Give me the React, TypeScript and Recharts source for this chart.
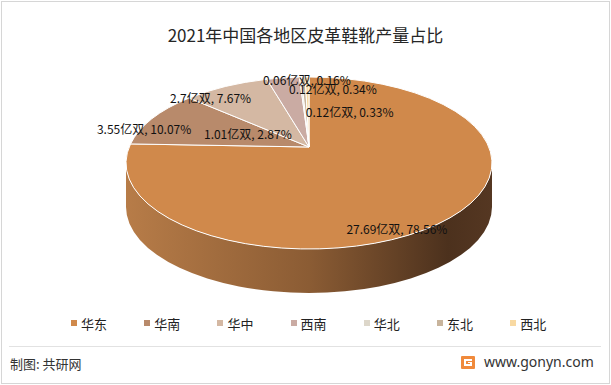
import { Cell, Legend, Pie, PieChart } from 'recharts';

const regions = ['华东', '华南', '华中', '西南', '华北', '东北', '西北'];
const outputYi = [27.69, 3.55, 2.7, 1.01, 0.06, 0.12, 0.12];
const sharePct = [78.56, 10.07, 7.67, 2.87, 0.16, 0.34, 0.33];
const sliceColors = ['#D0894B', '#B88A6B', '#D4B8A3', '#CAABA3', '#DDD7CA', '#C8B49C', '#F8D9A2'];

const data = regions.map((name, i) => ({ name, value: sharePct[i], output: outputYi[i] }));

// flattened "3d" look
const TILT = 0.47;
const DEPTH = 44;
const LIFT = 16;
const RAD = Math.PI / 180;

// label tweaks, Excel best-fit puts them in odd places
const labelNudge = [[8, 18], [-55, -4], [-40, -12], [-43, 30], [4, -23], [28, -14], [42, 9]];

const font = '"Noto Sans CJK SC", "Noto Sans", sans-serif';

function ept(cx: number, cy: number, r: number, a: number) {
  return [cx + r * Math.cos(a * RAD), cy - r * TILT * Math.sin(a * RAD)];
}

function Slice3D(props: any) {
  const { cx, cy, outerRadius, startAngle, endAngle, fill } = props;
  const rx = outerRadius;
  const ry = outerRadius * TILT;
  const [sx, sy] = ept(cx, cy, rx, startAngle);
  const [ex, ey] = ept(cx, cy, rx, endAngle);
  const large = Math.abs(startAngle - endAngle) > 180 ? 1 : 0;
  const top = `M${cx},${cy - LIFT} L${sx},${sy} A${rx},${ry} 0 ${large} 1 ${ex},${ey} Z`;

  const hi = Math.min(startAngle, 0);
  const lo = Math.max(endAngle, -180);
  let side = null;
  if (lo < hi) {
    const [hx, hy] = ept(cx, cy, rx, hi);
    const [lx, ly] = ept(cx, cy, rx, lo);
    const lg = hi - lo > 180 ? 1 : 0;
    const d = `M${hx},${hy} A${rx},${ry} 0 ${lg} 1 ${lx},${ly} L${lx},${ly + DEPTH} A${rx},${ry} 0 ${lg} 0 ${hx},${hy + DEPTH} Z`;
    side = (
      <>
        <defs>
          <linearGradient id={`side${props.index}`} gradientUnits="userSpaceOnUse" x1={cx - rx} y1={0} x2={cx + rx} y2={0}>
            <stop offset="0%" stopColor="#B77C48" />
            <stop offset="50%" stopColor="#8B5C34" />
            <stop offset="88%" stopColor="#4C311D" />
            <stop offset="100%" stopColor="#553722" />
          </linearGradient>
        </defs>
        <path d={d} fill={`url(#side${props.index})`} stroke="none" />
      </>
    );
  }
  return (
    <g>
      {side}
      <path d={top} fill={fill} stroke="#fff" strokeWidth={1} strokeLinejoin="round" />
    </g>
  );
}

function renderLabel(props: any) {
  const { cx, cy, outerRadius, index } = props;
  const mid = props.midAngle ?? (props.startAngle + props.endAngle) / 2;
  const [ax, ay] = ept(cx, cy, outerRadius * 0.7, mid);
  const [dx, dy] = labelNudge[index] || [0, 0];
  const d = data[index];
  return (
    <text x={ax + dx} y={ay + dy} textAnchor="middle" dominantBaseline="central"
      fill="#111" fontSize={12} fontFamily={font}>
      {`${d.output}亿双, ${d.value}%`}
    </text>
  );
}

// keep data order (the default legend sorts by name)
function LegendRow() {
  return (
    <div style={{ position: 'relative', height: 20, fontFamily: font, fontSize: 13, color: '#222' }}>
      {regions.map((name, i) => (
        <div key={name} style={{ position: 'absolute', left: 71 + i * 73.2, top: 0, display: 'flex', alignItems: 'center', height: 20 }}>
          <span style={{ width: 6, height: 6, background: sliceColors[i], marginRight: 4, display: 'inline-block' }} />
          <span>{name}</span>
        </div>
      ))}
    </div>
  );
}

export default function App() {
  return (
    <div style={{ position: 'absolute', left: 0, top: 0, width: 611, height: 385, background: '#fff', overflow: 'hidden' }}>
      <div style={{ position: 'absolute', left: 1, top: 1, width: 607, height: 381, border: '1px solid #d6d6d6' }} />
      <div style={{
        position: 'absolute', top: 22, left: 0, width: 611, textAlign: 'center',
        fontFamily: font, fontSize: 17, color: '#262626', lineHeight: '26px',
      }}>
        2021年中国各地区皮革鞋靴产量占比
      </div>
      <div style={{ position: 'absolute', left: 0, top: 0 }}>
        <PieChart width={611} height={340}>
          <Pie
            data={data}
            dataKey="value"
            nameKey="name"
            cx={304}
            cy={158}
            outerRadius={183}
            startAngle={90}
            endAngle={-270}
            shape={Slice3D}
            label={renderLabel}
            labelLine={false}
            isAnimationActive={false}
          >
            {data.map((d, i) => <Cell key={d.name} fill={sliceColors[i]} />)}
          </Pie>
          <Legend content={<LegendRow />} wrapperStyle={{ left: 0, top: 313, width: 611 }} />
        </PieChart>
      </div>
      <div style={{ position: 'absolute', left: 9, top: 346, width: 592, height: 1, background: '#e2e2e2' }} />
      <div style={{ position: 'absolute', left: 10, top: 355, fontFamily: font, fontSize: 13, color: '#333', lineHeight: '18px' }}>
        制图: 共研网
      </div>
      <svg style={{ position: 'absolute', left: 461, top: 356 }} width={14} height={13}>
        <rect x={0} y={0} width={14} height={13} rx={1} fill="#F08A3C" />
        <path d="M3,3 H11 V5 H5 V8 H9 V7 H7 V6 H11 V10 H3 Z" fill="#fff" />
      </svg>
      <div style={{ position: 'absolute', left: 484, top: 353, fontFamily: '"Noto Sans", sans-serif', fontSize: 14, color: '#333', lineHeight: '18px' }}>
        www.gonyn.com
      </div>
    </div>
  );
}
